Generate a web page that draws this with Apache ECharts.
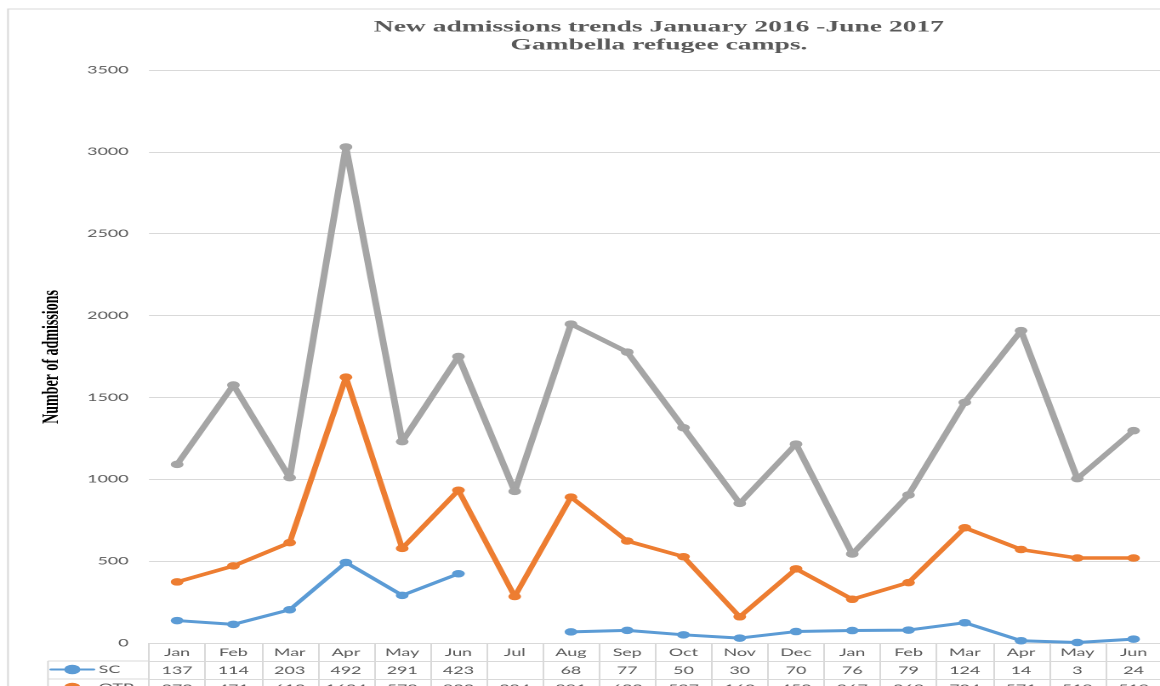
<!DOCTYPE html>
<html>
<head>
<meta charset="utf-8">
<script src="https://cdn.jsdelivr.net/npm/echarts@6/dist/echarts.min.js"></script>
<style>
  html, body { margin: 0; padding: 0; background: #fff; overflow: hidden; }
  #wrap { width: 1160px; height: 686px; overflow: hidden; }
  /* the chart is laid out narrow and widened horizontally */
  #chart { width: 682px; height: 686px; transform: scaleX(1.70088); transform-origin: 0 0; }
</style>
</head>
<body>
<div id="wrap"><div id="chart"></div></div>
<script>
const months = ['Jan','Feb','Mar','Apr','May','Jun','Jul','Aug','Sep','Oct','Nov','Dec','Jan','Feb','Mar','Apr','May','Jun'];
const scValues = [137, 114, 203, 492, 291, 423, null, 68, 77, 50, 30, 70, 76, 79, 124, 14, 3, 24];
const otpValues = [373, 471, 613, 1624, 578, 933, 284, 891, 623, 527, 160, 453, 267, 369, 704, 571, 519, 519];
const tsfpValues = [1091, 1576, 1010, 3030, 1230, 1750, 926, 1948, 1777, 1315, 853, 1215, 544, 904, 1470, 1908, 1004, 1297];
const yTicks = { min: 0, max: 3500, interval: 500 };

const GRID_COLOR = '#d9d9d9';
const TEXT_COLOR = '#595959';
const SANS = 'Lato, "Liberation Sans", sans-serif';
const SERIF = '"Liberation Serif", "Times New Roman", serif';

const chart = echarts.init(document.getElementById('chart'), null, {
  renderer: 'canvas', width: 682, height: 686, devicePixelRatio: 2
});

// one table row under the plot: an extra category axis whose labels are the row values
function tableRowAxis(values, offset) {
  return {
    type: 'category', data: months, gridIndex: 0, position: 'bottom', offset: offset,
    boundaryGap: true,
    axisLine: { show: true, lineStyle: { color: GRID_COLOR, width: 1 } },
    axisTick: { show: false },
    axisLabel: {
      interval: 0, margin: 4, color: TEXT_COLOR, fontFamily: SANS, fontSize: 10.5,
      formatter: (v, i) => (values[i] == null ? '' : String(values[i]))
    },
    splitLine: { show: false }
  };
}

// legend key sitting in the left cell of a table row
function rowKey(name, top) {
  return {
    orient: 'horizontal', left: 29, top: top, padding: 0,
    itemWidth: 25, itemHeight: 12,
    data: [name],
    textStyle: { color: TEXT_COLOR, fontFamily: SANS, fontSize: 10.5, padding: [0, 0, 0, -2] },
    selectedMode: false
  };
}

function lineSeries(name, data, color, width) {
  return {
    name: name, type: 'line', data: data, connectNulls: false,
    symbol: 'circle', symbolSize: 7.5,
    lineStyle: { color: color, width: width, cap: 'round', join: 'round' },
    itemStyle: { color: color },
    emphasis: { disabled: true }
  };
}

const option = {
  animation: false,
  backgroundColor: '#fff',
  grid: { left: 87.6, right: -1, top: 70, bottom: 43, containLabel: false, outerBoundsMode: 'none' },
  legend: [rowKey('SC', 664), rowKey('OTP', 682)],
  xAxis: [
    {
      type: 'category', data: months, boundaryGap: true,
      axisLine: { show: true, lineStyle: { color: GRID_COLOR, width: 1 } },
      axisTick: { show: true, interval: 0, alignWithLabel: false, length: 60, lineStyle: { color: GRID_COLOR, width: 1 } },
      axisLabel: { interval: 0, margin: 4, color: TEXT_COLOR, fontFamily: SANS, fontSize: 10.5 },
      splitLine: { show: false }
    },
    tableRowAxis(scValues, 18),
    tableRowAxis(otpValues, 36)
  ],
  yAxis: {
    type: 'value', min: yTicks.min, max: yTicks.max, interval: yTicks.interval,
    axisLine: { show: false }, axisTick: { show: false },
    axisLabel: { margin: 12, color: TEXT_COLOR, fontFamily: SANS, fontSize: 10.5, formatter: v => String(v) },
    splitLine: { show: true, lineStyle: { color: GRID_COLOR, width: 1 } }
  },
  series: [
    lineSeries('SC', scValues, '#5B9BD5', 3),
    lineSeries('OTP', otpValues, '#ED7D31', 3.5),
    lineSeries('TSFP', tsfpValues, '#A5A5A5', 4)
  ],
  graphic: [
    // outer chart frame
    { type: 'rect', silent: true, shape: { x: 4.7, y: 9, width: 720, height: 720 },
      style: { fill: null, stroke: GRID_COLOR, lineWidth: 1 } },
    // legend column of the data table
    { type: 'line', silent: true, shape: { x1: 28.2, y1: 661, x2: 87.6, y2: 661 }, style: { stroke: GRID_COLOR, lineWidth: 1 } },
    { type: 'line', silent: true, shape: { x1: 28.2, y1: 679, x2: 87.6, y2: 679 }, style: { stroke: GRID_COLOR, lineWidth: 1 } },
    { type: 'line', silent: true, shape: { x1: 28.2, y1: 661, x2: 28.2, y2: 700 }, style: { stroke: GRID_COLOR, lineWidth: 1 } },
    // title
    { type: 'text', silent: true, x: 387.4, y: 36.5,
      style: { text: 'New admissions trends January 2016 -June 2017\nGambella refugee camps.',
        font: 'bold 16.2px ' + SERIF, fill: TEXT_COLOR, align: 'center', verticalAlign: 'middle', lineHeight: 18 } },
    // value axis title
    { type: 'text', silent: true, x: 30.6, y: 357, rotation: Math.PI / 2,
      style: { text: 'Number of admissions', font: 'bold 14px ' + SERIF, fill: '#000',
        align: 'center', verticalAlign: 'middle' } }
  ]
};

chart.setOption(option);
</script>
</body>
</html>
